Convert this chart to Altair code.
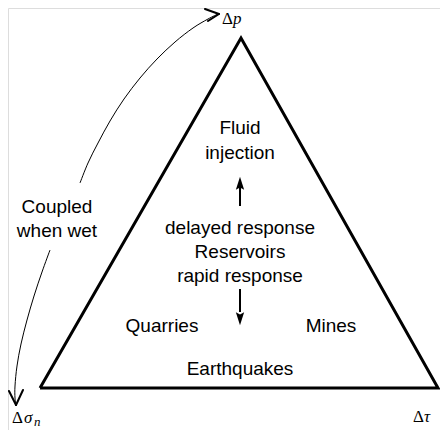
import altair as alt
import pandas as pd

# Diagram coordinates (x to the right, y downward, page-pixel-like units)
tri_x = [40, 241, 438, 40]
tri_y = [388, 38, 388, 388]

labels = ["Fluid", "injection", "delayed response", "Reservoirs", "rapid response",
          "Quarries", "Mines", "Earthquakes", "Coupled", "when wet"]
label_x = [240, 240, 240, 240, 240, 162, 331, 240, 57, 57]
label_y = [128, 153, 228, 252, 276, 326, 326, 369, 207, 231]

# vertex symbols: upright Delta + italic variable (+ subscript)
delta_x = [222, 12, 413]
delta_y = [19, 418, 417]
var_txt = ["p", "σ", "τ"]
var_x = [233, 24, 424]
var_y = [19, 418, 417]
sub_txt = ["n"]
sub_x = [34]
sub_y = [422]

# "coupled when wet" curves
top_cx = [80, 88, 98, 110, 124, 140, 157, 175, 193, 208, 218]
top_cy = [183, 163, 143, 121, 99, 78, 59, 42, 28, 19, 14]
bot_cx = [50, 42, 34, 27, 21, 17, 15, 15, 16]
bot_cy = [250, 272, 296, 320, 344, 366, 386, 398, 404]

# chevron arrow heads (segments)
chev_x = [205, 208, 9, 23]
chev_y = [9, 21, 391, 390]
chev_x2 = [219, 219, 16, 16]
chev_y2 = [14, 14, 405, 405]

# vertical arrows in the middle
arrow_x = [240, 240]
arrow_y1 = [206, 289]
arrow_y2 = [186, 312]
head_x = [240, 240]
head_y = [186, 316]
head_dir = ["up", "down"]

X = lambda f: alt.X(f, type="quantitative", scale=alt.Scale(domain=[8, 440], nice=False, zero=False), axis=None)
Y = lambda f: alt.Y(f, type="quantitative", scale=alt.Scale(domain=[8, 430], nice=False, zero=False, reverse=True), axis=None)

tri = pd.DataFrame({"x": tri_x, "y": tri_y, "o": range(len(tri_x))})
triangle = alt.Chart(tri).mark_line(color="black", strokeWidth=3, strokeJoin="miter", clip=False).encode(
    x=X("x"), y=Y("y"), order="o:Q")

lab = pd.DataFrame({"t": labels, "x": label_x, "y": label_y})
texts = alt.Chart(lab).mark_text(font="Liberation Sans", fontSize=19, color="black",
                                 align="center", baseline="middle").encode(
    x=X("x"), y=Y("y"), text="t:N")

dl = pd.DataFrame({"x": delta_x, "y": delta_y, "t": ["Δ"] * 3})
deltas = alt.Chart(dl).mark_text(font="Liberation Serif", fontSize=17, color="black",
                                 align="left", baseline="middle").encode(
    x=X("x"), y=Y("y"), text="t:N")
vv = pd.DataFrame({"x": var_x, "y": var_y, "t": var_txt})
vars_ = alt.Chart(vv).mark_text(font="Liberation Serif", fontSize=17, fontStyle="italic",
                                color="black", align="left", baseline="middle").encode(
    x=X("x"), y=Y("y"), text="t:N")
sb = pd.DataFrame({"x": sub_x, "y": sub_y, "t": sub_txt})
subs = alt.Chart(sb).mark_text(font="Liberation Serif", fontSize=13, fontStyle="italic",
                               color="black", align="left", baseline="middle").encode(
    x=X("x"), y=Y("y"), text="t:N")

tc = pd.DataFrame({"x": top_cx, "y": top_cy, "o": range(len(top_cx))})
top_curve = alt.Chart(tc).mark_line(color="black", strokeWidth=1, interpolate="cardinal").encode(
    x=X("x"), y=Y("y"), order="o:Q")
bc = pd.DataFrame({"x": bot_cx, "y": bot_cy, "o": range(len(bot_cx))})
bot_curve = alt.Chart(bc).mark_line(color="black", strokeWidth=1, interpolate="cardinal").encode(
    x=X("x"), y=Y("y"), order="o:Q")

ch = pd.DataFrame({"x": chev_x, "y": chev_y, "x2": chev_x2, "y2": chev_y2})
chevrons = alt.Chart(ch).mark_rule(color="black", strokeWidth=2, strokeCap="round").encode(
    x=X("x"), y=Y("y"), x2="x2:Q", y2="y2:Q")

ar = pd.DataFrame({"x": arrow_x, "y": arrow_y1, "y2": arrow_y2})
shafts = alt.Chart(ar).mark_rule(color="black", strokeWidth=2).encode(
    x=X("x"), y=Y("y"), y2="y2:Q")

hd = pd.DataFrame({"x": head_x, "y": head_y, "d": head_dir})
heads = alt.Chart(hd).mark_point(filled=True, color="black", opacity=1, size=340,
                                 shape="M0,-1L-0.45,0.4L0,0.15L0.45,0.4Z").encode(
    x=X("x"), y=Y("y"),
    angle=alt.Angle("d:N", scale=alt.Scale(domain=["up", "down"], range=[0, 180]), legend=None))

chart = alt.layer(triangle, top_curve, bot_curve, chevrons, shafts, heads,
                  texts, deltas, vars_, subs).properties(
    width=432, height=422, padding=0, autosize="none"
).configure_view(stroke=None).configure(background="white")

chart.save("out.html", embed_options={"renderer": "svg", "actions": False})
